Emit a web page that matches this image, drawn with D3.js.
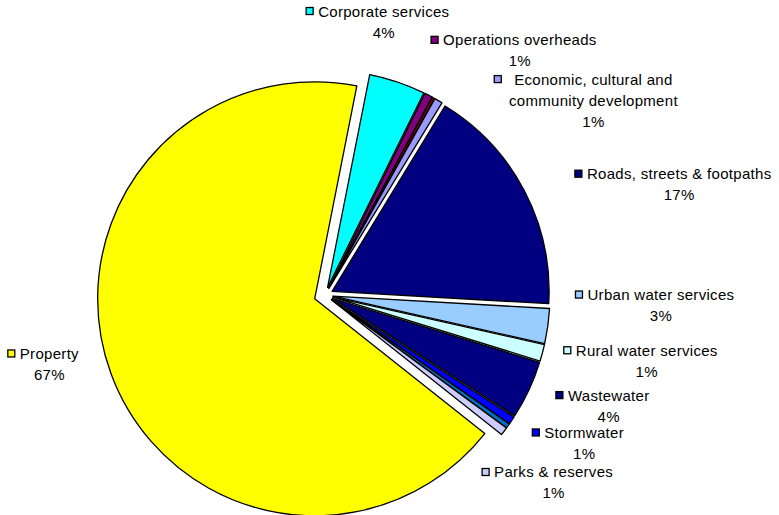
<!DOCTYPE html>
<html><head><meta charset="utf-8">
<script src="https://d3js.org/d3.v7.min.js"></script>
<style>
body{margin:0;background:#fff;}
text{font-family:"Liberation Sans",Arial,sans-serif;font-size:15px;letter-spacing:0.3px;fill:#000;}
</style></head>
<body><svg id="c" width="779" height="515"></svg>
<script>
// ---- data ----
const categories = ["Corporate services","Operations overheads","","Economic, cultural and community development",
  "Roads, streets & footpaths","Urban water services","Rural water services","Wastewater","Stormwater","",
  "Parks & reserves","Property"];
const values = [4.2, 0.6, 0.2, 0.6, 17.2, 2.6, 1.25, 4.35, 0.6, 0.35, 0.6, 67.45];
const colors = ["#00FFFF","#800080","#800000","#9999FF","#000080","#99CCFF","#CCFFFF","#000080","#0000FF","#0070C0","#CCCCFF","#FFFF00"];
// ---- layout ----
const cx = 325, cy = 295, R = 217;
const startDeg = 11.2;
const explode = [8,8,8,8,8,8,8,8,8,8,8,11];
const labelNudge = [[-11,-78],[95,-62],null,[159,-28],[162,-20],[121,-30],[112,0],[87,9],[79,17],null,[56,46],[-72,-16]];
const lineGap = 21;

const svg = d3.select("#c");
const total = d3.sum(values);
const pie = d3.pie().sort(null).value(d => d)
  .startAngle(startDeg*Math.PI/180).endAngle((startDeg+360)*Math.PI/180);
const arcs = pie(values);
const arc = d3.arc().innerRadius(0).outerRadius(R);
const dir = a => [Math.sin(a), -Math.cos(a)];

const g = svg.append("g").attr("transform", `translate(${cx},${cy})`);
g.selectAll("path").data(arcs).join("path")
  .attr("transform", (d,i) => { const m=(d.startAngle+d.endAngle)/2, v=dir(m); return `translate(${v[0]*explode[i]},${v[1]*explode[i]})`; })
  .attr("d", arc)
  .attr("fill", (d,i) => colors[i])
  .attr("stroke", "#000").attr("stroke-width", 1.3).attr("stroke-linejoin","round");

// ---- labels ----
const lab = svg.append("g");
arcs.forEach((d,i) => {
  if (!categories[i] || !labelNudge[i]) return;
  const m = (d.startAngle+d.endAngle)/2, v = dir(m);
  const ax = cx + v[0]*R + labelNudge[i][0];
  const ay = cy + v[1]*R + labelNudge[i][1];
  // wrap the name if it is wide
  const words = categories[i].split(" ");
  const lines = [];
  let cur = "";
  const tmp = lab.append("text");
  words.forEach(w => {
    const t = cur ? cur + " " + w : w;
    tmp.text(t);
    if (tmp.node().getComputedTextLength() > 200 && cur) { lines.push(cur); cur = w; } else cur = t;
  });
  lines.push(cur);
  tmp.remove();
  const pct = Math.round(values[i]/total*100) + "%";
  const all = lines.concat([pct]);
  let firstW = 0;
  all.forEach((t,k) => {
    const tx = lab.append("text").attr("x", ax).attr("y", ay + k*lineGap + 5)
      .attr("text-anchor","middle").text(t);
    if (k===0) firstW = tx.node().getComputedTextLength();
  });
  const keyGap = lines.length > 1 ? 20 : 12;
  lab.append("rect").attr("x", ax - firstW/2 - keyGap).attr("y", ay - 4)
    .attr("width", 7).attr("height", 7)
    .attr("fill", colors[i]).attr("stroke", "#000").attr("stroke-width", 1.3);
});
</script>
</body></html>
